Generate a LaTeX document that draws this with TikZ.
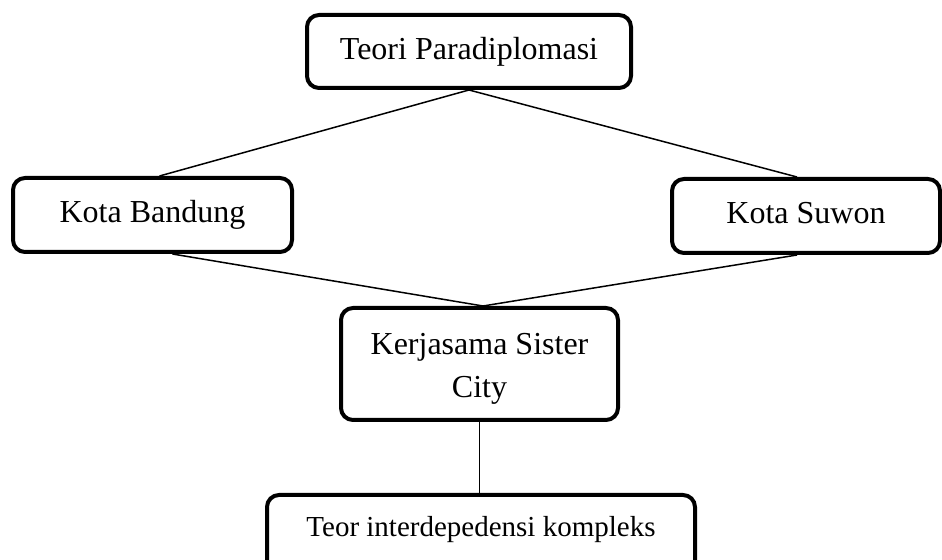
\documentclass[tikz,border=0pt]{standalone}
\usepackage{fontspec}
\setmainfont{Liberation Serif}
\usepackage{tikz}
\usetikzlibrary{positioning}

\begin{document}
\begin{tikzpicture}[
    x=0.5pt, y=-0.5pt,
    box/.style={rectangle, rounded corners=6pt, draw=black, line width=2pt,
                align=center, font=\fontsize{16}{21.5}\selectfont, inner sep=0pt},
    single/.style={text height=12pt, text depth=4pt},
    link/.style={draw=black, line width=0.75pt}
]
\useasboundingbox (0,0) rectangle (942,560);

\node[box, single, minimum width=162pt, minimum height=36.5pt] (teori) at (469,51.5) {Teori Paradiplomasi};
\node[box, single, minimum width=139.5pt, minimum height=37pt] (bandung) at (152.5,215) {Kota Bandung};
\node[box, single, minimum width=134pt, minimum height=37pt] (suwon) at (806,216) {Kota Suwon};
\node[box, text height=34pt, text depth=0pt, minimum width=138.5pt, minimum height=56pt] (kerjasama) at (479.5,364) {Kerjasama Sister\\City};
\node[box, anchor=north, minimum width=214pt, text height=21pt, text depth=24pt,
      font=\fontsize{14.5}{18}\selectfont] (teor) at (481,493) {Teor interdepedensi kompleks};

\draw[link] (teori.south) -- ([xshift=3.5pt]bandung.north);
\draw[link] (teori.south) -- ([xshift=-4.5pt]suwon.north);
\draw[link] ([xshift=10pt]bandung.south) -- ([xshift=1.75pt]kerjasama.north);
\draw[link] ([xshift=-4.5pt]suwon.south) -- ([xshift=1.75pt]kerjasama.north);
\draw[link] (kerjasama.south) -- (kerjasama.south |- teor.north);
\end{tikzpicture}
\end{document}
